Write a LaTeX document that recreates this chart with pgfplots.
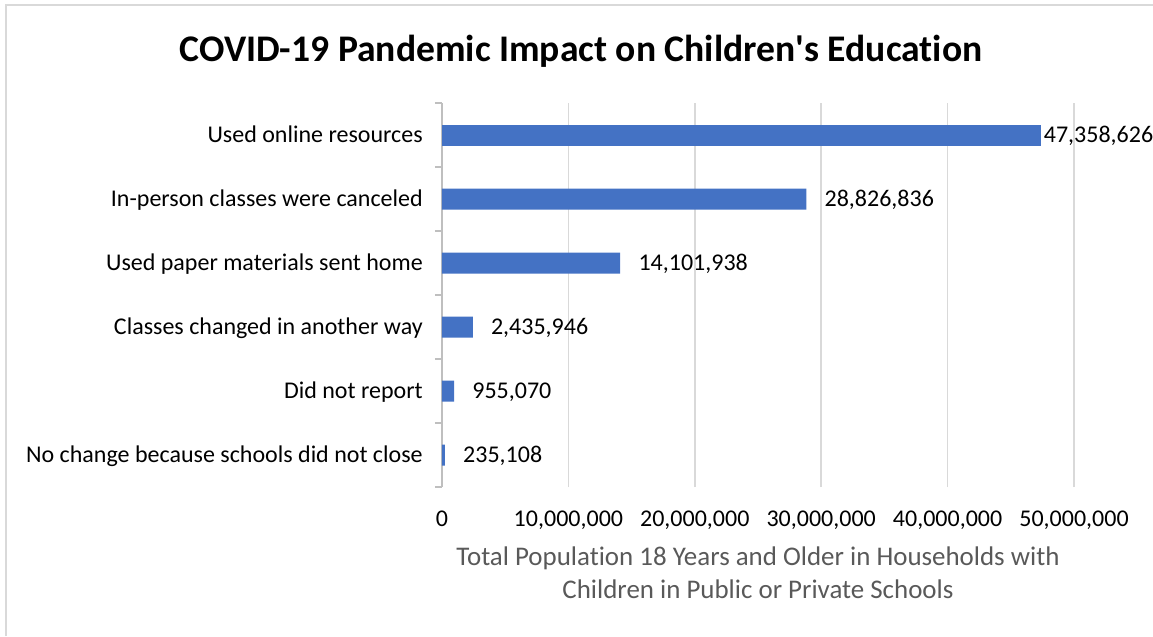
\documentclass[border=0pt]{standalone}
\usepackage{fontspec}
\setmainfont{Carlito}[Ligatures=NoCommon]
\usepackage{pgfplots}
\pgfplotsset{compat=1.18}

\definecolor{barblue}{HTML}{4472C4}
\definecolor{gridgray}{HTML}{D9D9D9}
\definecolor{axisgray}{HTML}{BFBFBF}
\definecolor{labelgray}{HTML}{595959}

\newcommand{\lbl}{\fontsize{18}{21.6}\selectfont}

\begin{document}
\begin{tikzpicture}
% page frame, 1px = 0.75pt
\useasboundingbox (-331.5pt,-111.75pt) rectangle (533.25pt,365.25pt);
\draw[gridgray, line width=1.5pt] (-327pt,-111.75pt) -- (-327pt,361.5pt) -- (533.25pt,361.5pt);

\begin{axis}[
    at={(0,0)}, anchor=south west,
    scale only axis,
    width=474pt, height=288pt,
    xbar, bar width=15.75pt, bar shift=0pt,
    xmin=0, xmax=50000000,
    ymin=-0.5, ymax=5.5,
    axis y line*=left,
    axis x line*=bottom,
    x axis line style={draw=none},
    y axis line style={draw=axisgray, line width=0.9pt},
    xtick={0,10000000,20000000,30000000,40000000,50000000},
    xticklabels={0,{10,000,000},{20,000,000},{30,000,000},{40,000,000},{50,000,000}},
    scaled x ticks=false,
    xmajorgrids, major grid style={gridgray, line width=1.2pt},
    major tick length=0pt,
    ytick={0,1,2,3,4,5},
    yticklabels={No change because schools did not close, Did not report,
        Classes changed in another way, Used paper materials sent home,
        In-person classes were canceled, Used online resources},
    minor ytick={-0.5,0.5,1.5,2.5,3.5,4.5,5.5},
    minor tick length=5.25pt,
    tick align=outside,
    minor tick style={axisgray, line width=0.9pt},
    xticklabel style={font=\lbl, anchor=base, inner sep=0pt, yshift=-29.25pt},
    yticklabel style={font=\lbl, anchor=base east, inner sep=0pt, xshift=-14.25pt, yshift=-5.8pt},
    point meta=explicit symbolic,
    nodes near coords,
    nodes near coords style={font=\lbl, black, anchor=base west, inner sep=0pt, yshift=-5.8pt},
    clip=false,
]
\addplot[fill=barblue, draw=none, nodes near coords style={xshift=13.5pt}] coordinates {
    (235108,0) [235,108]
    (955070,1) [955,070]
    (2435946,2) [2,435,946]
    (14101938,3) [14,101,938]
    (28826836,4) [28,826,836]
};
\addplot[fill=barblue, draw=none, nodes near coords style={xshift=2.25pt}] coordinates {
    (47358626,5) [47,358,626]
};
\node[anchor=base, font=\fontsize{28.2}{34}\selectfont\bfseries] at (104.25pt,318.75pt) {COVID-19 Pandemic Impact on Children\textquotesingle s Education};
\node[anchor=base, font=\fontsize{20.2}{24}\selectfont, text=labelgray, inner sep=0pt] at ([yshift=-58.5pt]axis description cs:0.5,0) {Total Population 18 Years and Older in Households with};
\node[anchor=base, font=\fontsize{20.2}{24}\selectfont, text=labelgray, inner sep=0pt] at ([yshift=-83.25pt]axis description cs:0.5,0) {Children in Public or Private Schools};
\end{axis}
\end{tikzpicture}
\end{document}
